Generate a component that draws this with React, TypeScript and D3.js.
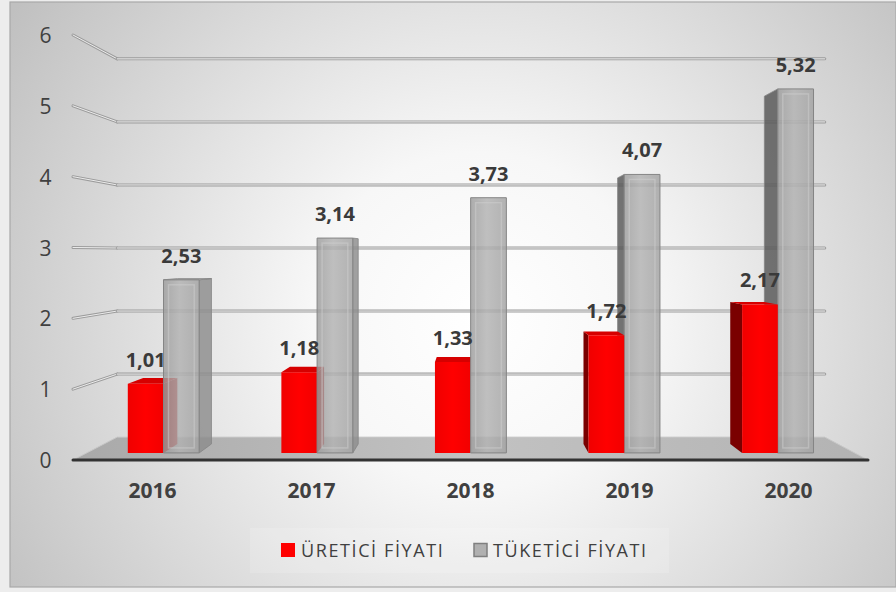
import React from 'react';
import * as d3 from 'd3';

const years = ['2016', '2017', '2018', '2019', '2020'];
const seriesNames = ['ÜRETİCİ FİYATI', 'TÜKETİCİ FİYATI'];
const ureticiValues = [1.01, 1.18, 1.33, 1.72, 2.17];
const tuketiciValues = [2.53, 3.14, 3.73, 4.07, 5.32];
const yTicks = [0, 1, 2, 3, 4, 5, 6];

const W = 896;
const H = 592;
const CX = 475;
const CY = 252;
const Z0 = 0.31;
const Z1 = 0.7;
const sAt = (z: number) => 1 - 0.11 * z;
const proj = (xf: number, yf: number, z: number): [number, number] => {
  const s = sAt(z);
  return [CX + (xf - CX) * s, CY + (yf - CY) * s];
};
const pts = (arr: [number, number][]) => arr.map((p) => `${p[0].toFixed(2)},${p[1].toFixed(2)}`).join(' ');

const fmt = (v: number) => d3.format('.2f')(v).replace('.', ',');

const styles = [
  { front: 'url(#redFront)', top: '#d60000', right: '#b00000', left: '#7a0000', stroke: 'none', opacity: 1 },
  { front: 'url(#grayFront)', top: '#c4c4c4', right: '#8c8c8c', left: '#555555', stroke: '#858585', opacity: 0.82 },
];

export default function App() {
  const x0 = d3.scaleBand<string>().domain(years).range([73, 868]).paddingInner(0.535).paddingOuter(0.2675);
  const x1 = d3.scaleBand<string>().domain(seriesNames).range([0, x0.bandwidth()]);
  const y = d3.scaleLinear().domain([0, 6]).range([460, 35]);
  const seriesValues = [ureticiValues, tuketiciValues];

  const bars: { xf0: number; xf1: number; v: number; j: number }[] = [];
  years.forEach((yr, i) => {
    seriesNames.forEach((s, j) => {
      const xf0 = (x0(yr) as number) + (x1(s) as number);
      bars.push({ xf0, xf1: xf0 + x1.bandwidth(), v: seriesValues[j][i], j });
    });
  });
  const ordered = [...bars].sort(
    (a, b) => Math.abs((b.xf0 + b.xf1) / 2 - CX) - Math.abs((a.xf0 + a.xf1) / 2 - CX)
  );

  const xLeftF = x0.range()[0];
  const xRightF = x0.range()[1];
  const y0 = y(0);

  const tube = (key: string, p1: [number, number], p2: [number, number]) => (
    <g key={key}>
      <line x1={p1[0]} y1={p1[1]} x2={p2[0]} y2={p2[1]} stroke="#9c9c9c" strokeWidth={3} strokeLinecap="round" />
      <line x1={p1[0]} y1={p1[1]} x2={p2[0]} y2={p2[1]} stroke="#ececec" strokeWidth={1} strokeLinecap="round" />
    </g>
  );

  return (
    <svg width={W} height={H} style={{ position: 'absolute', left: 0, top: 0 }} fontFamily="'Open Sans', sans-serif">
      <defs>
        <radialGradient id="bg" gradientUnits="userSpaceOnUse" cx={480} cy={320} r={560}>
          <stop offset="0" stopColor="#ffffff" />
          <stop offset="0.3" stopColor="#f7f7f7" />
          <stop offset="1" stopColor="#c0c0c0" />
        </radialGradient>
        <linearGradient id="floor" x1="0" x2="1" y1="0" y2="0">
          <stop offset="0" stopColor="#a9a9a9" />
          <stop offset="0.5" stopColor="#c2c2c2" />
          <stop offset="1" stopColor="#b3b3b3" />
        </linearGradient>
        <linearGradient id="redFront" x1="0" x2="1" y1="0" y2="0">
          <stop offset="0" stopColor="#f00000" />
          <stop offset="0.5" stopColor="#ff0000" />
          <stop offset="1" stopColor="#f20000" />
        </linearGradient>
        <linearGradient id="grayFront" x1="0" x2="1" y1="0" y2="0">
          <stop offset="0" stopColor="#9c9c9c" />
          <stop offset="0.45" stopColor="#b2b2b2" />
          <stop offset="1" stopColor="#a2a2a2" />
        </linearGradient>
      </defs>
      <rect x={0} y={0} width={W} height={H} fill="#ededed" />
      <rect x={10} y={2} width={W - 10} height={585} fill="url(#bg)" stroke="#a8a8a8" strokeWidth={1.2} />

      {/* left wall gridlines */}
      {yTicks.filter((t) => t > 0).map((t) => tube(`lw${t}`, proj(xLeftF, y(t), 0), proj(xLeftF, y(t), 1)))}
      {/* back wall gridlines */}
      {yTicks.filter((t) => t > 0).map((t) => tube(`bw${t}`, proj(xLeftF, y(t), 1), proj(xRightF, y(t), 1)))}

      {/* floor */}
      <polygon
        points={pts([proj(xLeftF, y0, 0), proj(xRightF, y0, 0), proj(xRightF, y0, 1), proj(xLeftF, y0, 1)])}
        fill="url(#floor)"
        stroke="#c8c8c8"
        strokeWidth={1}
      />
      <line
        x1={proj(xLeftF, y0, 0)[0]}
        y1={y0}
        x2={proj(xRightF, y0, 0)[0]}
        y2={y0}
        stroke="#333333"
        strokeWidth={3}
        strokeLinecap="round"
      />

      {/* bars */}
      {ordered.map((b, k) => {
        const st = styles[b.j];
        const yv = y(b.v);
        const front = [proj(b.xf0, y0, Z0), proj(b.xf1, y0, Z0), proj(b.xf1, yv, Z0), proj(b.xf0, yv, Z0)] as [number, number][];
        const showTop = front[3][1] > CY;
        const top = [proj(b.xf0, yv, Z0), proj(b.xf1, yv, Z0), proj(b.xf1, yv, Z1), proj(b.xf0, yv, Z1)] as [number, number][];
        const right = [proj(b.xf1, y0, Z0), proj(b.xf1, y0, Z1), proj(b.xf1, yv, Z1), proj(b.xf1, yv, Z0)] as [number, number][];
        const left = [proj(b.xf0, y0, Z0), proj(b.xf0, y0, Z1), proj(b.xf0, yv, Z1), proj(b.xf0, yv, Z0)] as [number, number][];
        const fx0 = front[0][0];
        const fx1 = front[1][0];
        const ftop = front[3][1];
        const fbot = front[0][1];
        return (
          <g key={k}>
            {b.xf1 < CX && <polygon points={pts(right)} fill={st.right} fillOpacity={st.opacity} stroke={st.stroke} strokeWidth={0.8} />}
            {b.xf0 > CX && <polygon points={pts(left)} fill={st.left} fillOpacity={st.opacity} stroke={st.stroke} strokeWidth={0.8} />}
            {showTop && <polygon points={pts(top)} fill={st.top} fillOpacity={st.opacity} stroke={st.stroke} strokeWidth={0.8} />}
            <polygon points={pts(front)} fill={st.front} fillOpacity={st.opacity} stroke={st.stroke} strokeWidth={1} />
            {b.j === 1 && (
              <rect
                x={fx0 + 5}
                y={ftop + 5}
                width={Math.max(0, fx1 - fx0 - 10)}
                height={Math.max(0, fbot - ftop - 10)}
                fill="none"
                stroke="#cfcfcf"
                strokeOpacity={0.5}
                strokeWidth={1.5}
              />
            )}
          </g>
        );
      })}

      {/* data labels */}
      {bars.map((b, k) => {
        const p = proj((b.xf0 + b.xf1) / 2, y(b.v), Z0);
        return (
          <text key={`dl${k}`} x={p[0]} y={p[1] - 17} textAnchor="middle" fontSize={20} fontWeight="bold" fill="#3a3a3a">
            {fmt(b.v)}
          </text>
        );
      })}

      {/* y axis labels */}
      {yTicks.map((t) => (
        <text key={`yt${t}`} x={45.5} y={y(t) + 8} textAnchor="middle" fontSize={21} fill="#404040">
          {t}
        </text>
      ))}

      {/* category labels */}
      {years.map((yr) => (
        <text
          key={`c${yr}`}
          x={(x0(yr) as number) + x0.bandwidth() / 2}
          y={498}
          textAnchor="middle"
          fontSize={21}
          fontWeight="bold"
          fill="#404040"
        >
          {yr}
        </text>
      ))}

      {/* legend */}
      <rect x={250} y={528} width={419} height={45} fill="#ffffff" fillOpacity={0.15} />
      <rect x={281} y={543} width={14} height={14} fill="#ff0000" />
      <text x={301} y={557} fontSize={18} letterSpacing={1.6} fill="#404040">
        {seriesNames[0]}
      </text>
      <rect x={474} y={543.5} width={13} height={13} fill="#b0b0b0" stroke="#7f7f7f" strokeWidth={1.5} />
      <text x={493} y={557} fontSize={18} letterSpacing={1.6} fill="#404040">
        {seriesNames[1]}
      </text>
    </svg>
  );
}
